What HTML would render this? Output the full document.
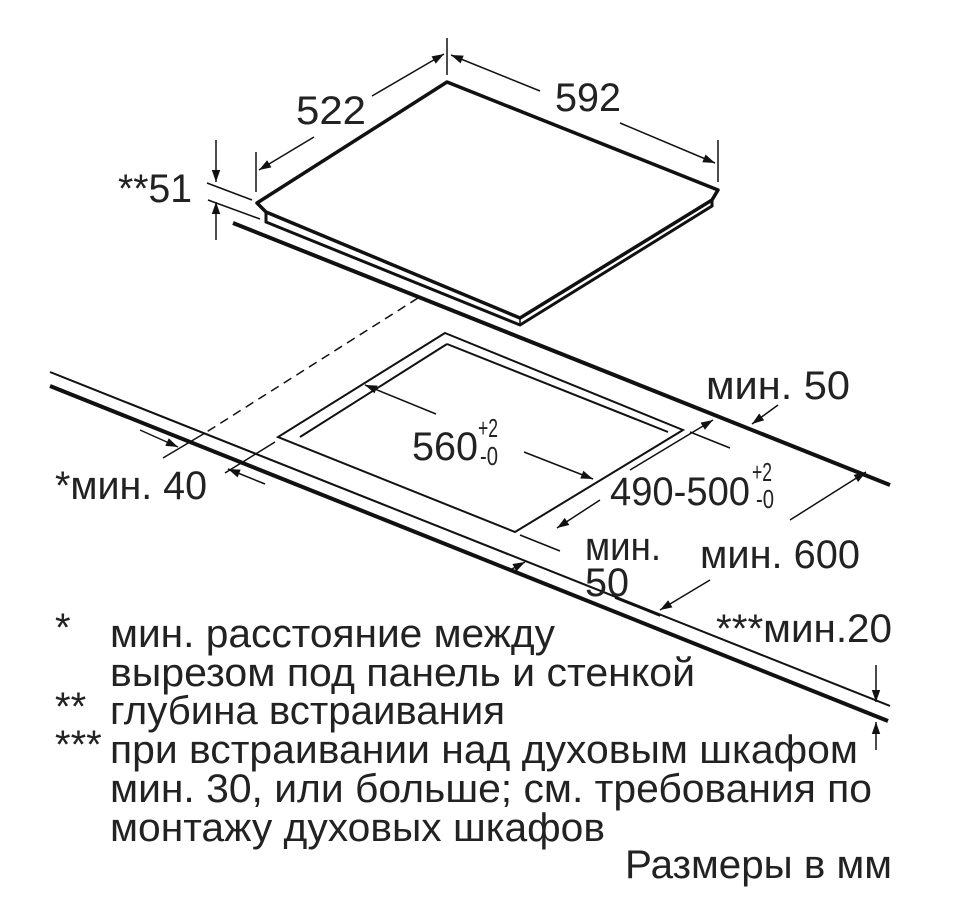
<!DOCTYPE html>
<html><head><meta charset="utf-8"><style>
html,body{margin:0;padding:0;background:#fff;}
svg{display:block;}
text{font-family:"Liberation Sans",sans-serif;fill:#222;}
</style></head><body>
<svg width="979" height="918" viewBox="0 0 979 918" xmlns="http://www.w3.org/2000/svg">
<defs>
<marker id="a" viewBox="0 0 10 10" refX="10" refY="5" markerWidth="15" markerHeight="12" orient="auto-start-reverse" markerUnits="userSpaceOnUse"><path d="M0,1.5 L10,5 L0,8.5 z" fill="#111"/></marker>
</defs>
<g stroke="#111" fill="none">
<path d="M257,203 L447,82 L718,190 L712,200 L520,318 L266,212 Z" stroke-width="3.5" stroke-linejoin="round"/>
<path d="M266,212 L266,222 L520,325 L712,206 L712,200" stroke-width="3"/>
<path d="M520,318 L520,325" stroke-width="1.5"/>
<line x1="447" y1="38" x2="447" y2="75" stroke-width="1.5"/>
<line x1="256" y1="152" x2="256" y2="192" stroke-width="1.5"/>
<line x1="718" y1="140" x2="718" y2="182" stroke-width="1.5"/>
<line x1="372" y1="96" x2="444" y2="54" stroke-width="1.5" marker-end="url(#a)"/>
<line x1="314" y1="137" x2="259" y2="170" stroke-width="1.5" marker-end="url(#a)"/>
<line x1="540" y1="91" x2="451" y2="55" stroke-width="1.5" marker-end="url(#a)"/>
<line x1="620" y1="123" x2="715" y2="163" stroke-width="1.5" marker-end="url(#a)"/>
<line x1="207" y1="183" x2="252" y2="200" stroke-width="1.5"/>
<line x1="208" y1="200" x2="260" y2="219" stroke-width="1.5"/>
<line x1="216" y1="140" x2="216" y2="182" stroke-width="1.5" marker-end="url(#a)"/>
<line x1="216" y1="240" x2="216" y2="202" stroke-width="1.5" marker-end="url(#a)"/>
<line x1="233" y1="223" x2="890" y2="485" stroke-width="4"/>
<line x1="50" y1="372" x2="890" y2="706" stroke-width="2"/>
<line x1="50" y1="386" x2="888" y2="721" stroke-width="4"/>
<line x1="418" y1="298" x2="205" y2="433" stroke-width="1.5" stroke-dasharray="9,6"/>
<line x1="205" y1="433" x2="163" y2="458" stroke-width="1.5"/>
<path d="M445,333 L683,430 L515,532 L278,437 Z" stroke-width="2"/>
<path d="M447,344 L300,437 M447,344 L668,432" stroke-width="2"/>
<line x1="275" y1="442" x2="225" y2="473" stroke-width="1.5"/>
<line x1="690" y1="432" x2="730" y2="448" stroke-width="1.5"/>
<line x1="520" y1="535" x2="560" y2="551" stroke-width="1.5"/>
<line x1="615" y1="598" x2="660" y2="616" stroke-width="1.5"/>
<line x1="436" y1="414" x2="365" y2="385" stroke-width="1.5" marker-end="url(#a)"/>
<line x1="524" y1="452" x2="593" y2="479" stroke-width="1.5" marker-end="url(#a)"/>
<line x1="630" y1="470" x2="713" y2="420" stroke-width="1.5" marker-end="url(#a)"/>
<line x1="600" y1="500" x2="557" y2="528" stroke-width="1.5" marker-end="url(#a)"/>
<line x1="778" y1="405" x2="752" y2="424" stroke-width="1.5" marker-end="url(#a)"/>
<line x1="510" y1="570" x2="525" y2="562" stroke-width="1.5" marker-end="url(#a)"/>
<line x1="790" y1="520" x2="866" y2="472" stroke-width="1.5" marker-end="url(#a)"/>
<line x1="710" y1="580" x2="660" y2="610" stroke-width="1.5" marker-end="url(#a)"/>
<line x1="140" y1="430" x2="178" y2="447" stroke-width="1.5" marker-end="url(#a)"/>
<line x1="265" y1="484" x2="228" y2="469" stroke-width="1.5" marker-end="url(#a)"/>
<line x1="876" y1="665" x2="876" y2="702" stroke-width="1.5" marker-end="url(#a)"/>
<line x1="876" y1="750" x2="876" y2="722" stroke-width="1.5" marker-end="url(#a)"/>
</g>
<g font-size="40">
<text x="296" y="124" textLength="70" lengthAdjust="spacingAndGlyphs">522</text>
<text x="555" y="111" textLength="66" lengthAdjust="spacingAndGlyphs">592</text>
<text x="118" y="202" textLength="74" lengthAdjust="spacingAndGlyphs">**51</text>
<text x="706" y="399" textLength="144" lengthAdjust="spacingAndGlyphs">мин. 50</text>
<text x="412" y="460" textLength="66" lengthAdjust="spacingAndGlyphs">560</text>
<text x="478" y="437" font-size="26" textLength="20" lengthAdjust="spacingAndGlyphs">+2</text>
<text x="480" y="465" font-size="26" textLength="18" lengthAdjust="spacingAndGlyphs">-0</text>
<text x="610" y="505" textLength="140" lengthAdjust="spacingAndGlyphs">490-500</text>
<text x="752" y="481" font-size="26" textLength="20" lengthAdjust="spacingAndGlyphs">+2</text>
<text x="756" y="508" font-size="26" textLength="18" lengthAdjust="spacingAndGlyphs">-0</text>
<text x="55" y="499" textLength="152" lengthAdjust="spacingAndGlyphs">*мин. 40</text>
<text x="585" y="560" textLength="76" lengthAdjust="spacingAndGlyphs">мин.</text>
<text x="585" y="596" textLength="44" lengthAdjust="spacingAndGlyphs">50</text>
<text x="700" y="568" textLength="160" lengthAdjust="spacingAndGlyphs">мин. 600</text>
<text x="716" y="642" textLength="176" lengthAdjust="spacingAndGlyphs">***мин.20</text>
<text x="55" y="641">*</text>
<text x="110" y="647" textLength="445" lengthAdjust="spacingAndGlyphs">мин. расстояние между</text>
<text x="110" y="686" textLength="585" lengthAdjust="spacingAndGlyphs">вырезом под панель и стенкой</text>
<text x="55" y="720">**</text>
<text x="110" y="724" textLength="395" lengthAdjust="spacingAndGlyphs">глубина встраивания</text>
<text x="55" y="758">***</text>
<text x="110" y="763" textLength="748" lengthAdjust="spacingAndGlyphs">при встраивании над духовым шкафом</text>
<text x="110" y="802" textLength="762" lengthAdjust="spacingAndGlyphs">мин. 30, или больше; см. требования по</text>
<text x="110" y="841" textLength="495" lengthAdjust="spacingAndGlyphs">монтажу духовых шкафов</text>
<text x="625" y="878" textLength="267" lengthAdjust="spacingAndGlyphs">Размеры в мм</text>
</g>
</svg>
</body></html>
